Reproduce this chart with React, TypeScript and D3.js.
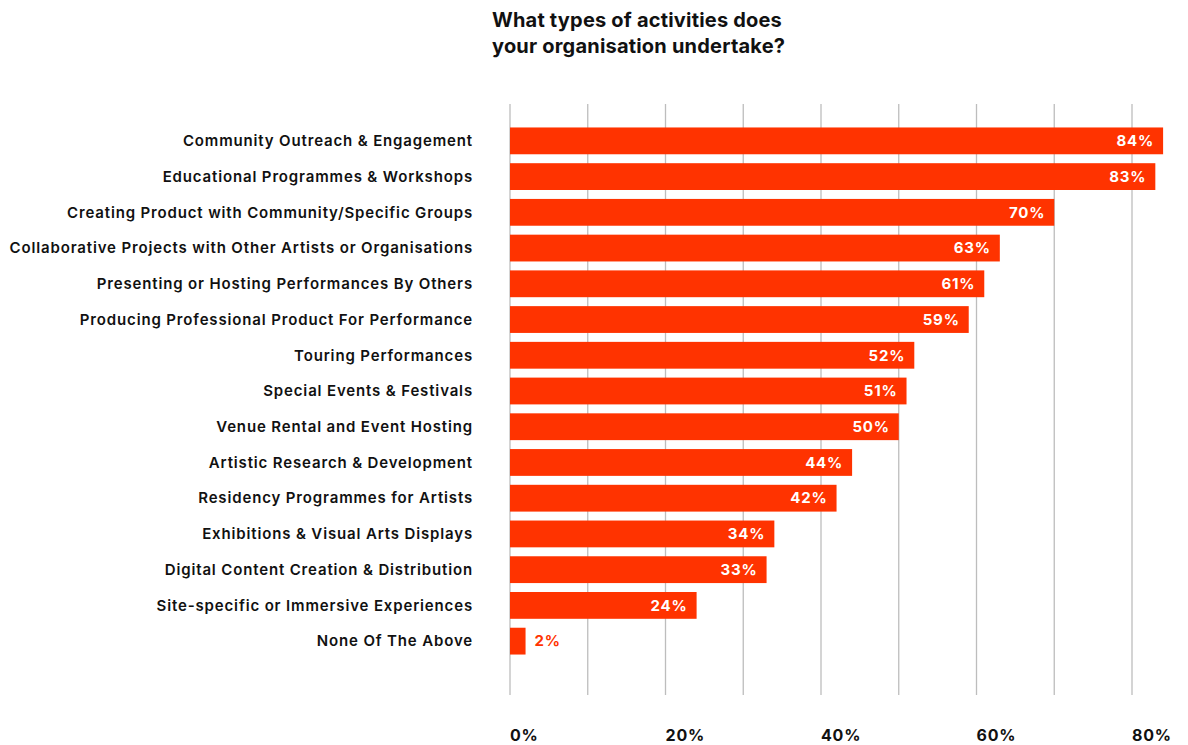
import React from "react";
import * as d3 from "d3";

const categories = [
  "Community Outreach & Engagement",
  "Educational Programmes & Workshops",
  "Creating Product with Community/Specific Groups",
  "Collaborative Projects with Other Artists or Organisations",
  "Presenting or Hosting Performances By Others",
  "Producing Professional Product For Performance",
  "Touring Performances",
  "Special Events & Festivals",
  "Venue Rental and Event Hosting",
  "Artistic Research & Development",
  "Residency Programmes for Artists",
  "Exhibitions & Visual Arts Displays",
  "Digital Content Creation & Distribution",
  "Site-specific or Immersive Experiences",
  "None Of The Above",
];
const values = [84, 83, 70, 63, 61, 59, 52, 51, 50, 44, 42, 34, 33, 24, 2];
const ticks = [0, 20, 40, 60, 80];
const gridTicks = [0, 10, 20, 30, 40, 50, 60, 70, 80];
const titleLines = ["What types of activities does", "your organisation undertake?"];

const W = 1188;
const H = 745;
const FONT = "Inter, 'Noto Sans', sans-serif";
const RED = "#ff3300";

export default function App() {
  const x = d3.scaleLinear().domain([0, 80]).range([510, 1132]);
  const y = d3
    .scaleBand<string>()
    .domain(categories)
    .range([123, 659])
    .paddingInner(0.25)
    .paddingOuter(0.125);

  return (
    <svg
      width={W}
      height={H}
      style={{ position: "absolute", left: 0, top: 0, background: "#fff" }}
      fontFamily={FONT}
    >
      {titleLines.map((t, i) => (
        <text key={i} x={492} y={27 + i * 26} fontSize={20} fontWeight={700} letterSpacing={0.2} fill="#111">
          {t}
        </text>
      ))}
      {gridTicks.map((t) => (
        <line key={t} x1={x(t)} x2={x(t)} y1={104} y2={695} stroke="#bdbdbd" strokeWidth={1.3} />
      ))}
      {categories.map((c, i) => {
        const v = values[i];
        const y0 = y(c)!;
        const bh = y.bandwidth();
        const inside = x(v) - x(0) > 50;
        return (
          <g key={c}>
            <rect x={x(0)} y={y0} width={x(v) - x(0)} height={bh} fill={RED} />
            <text
              x={473}
              y={y0 + bh / 2}
              dy="0.35em"
              textAnchor="end"
              fontSize={15}
              fontWeight={600}
              letterSpacing={0.85}
              fill="#111"
            >
              {c}
            </text>
            <text
              x={inside ? x(v) - 9 : x(v) + 9}
              y={y0 + bh / 2}
              dy="0.35em"
              textAnchor={inside ? "end" : "start"}
              fontSize={15}
              fontWeight={700}
              letterSpacing={0.8}
              fill={inside ? "#fff" : RED}
            >
              {v}%
            </text>
          </g>
        );
      })}
      {ticks.map((t) => (
        <text key={t} x={x(t)} y={741} fontSize={16} fontWeight={700} letterSpacing={0.8} fill="#111">
          {t}%
        </text>
      ))}
    </svg>
  );
}
